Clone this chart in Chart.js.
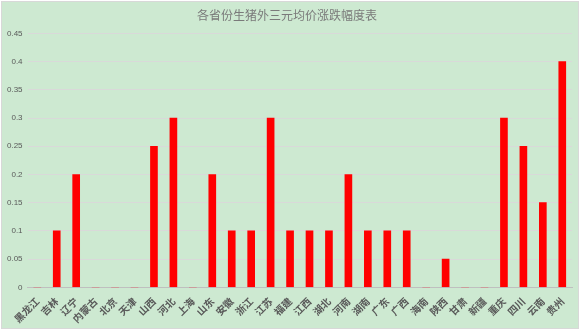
<!DOCTYPE html>
<html>
<head>
<meta charset="utf-8">
<script src="https://cdn.jsdelivr.net/npm/chart.js@4"></script>
<style>
  html, body { margin: 0; padding: 0; background: #fff; }
  #wrap { position: absolute; left: 1px; top: 1px; width: 578px; height: 328px;
          background: #cde9d1; border: 1px solid #d8d8d8; box-sizing: border-box; }
</style>
</head>
<body>
<div id="wrap"><canvas id="c"></canvas></div>
<script>
const provinces = ['黑龙江', '吉林', '辽宁', '内蒙古', '北京', '天津', '山西', '河北', '上海', '山东',
  '安徽', '浙江', '江苏', '福建', '江西', '湖北', '河南', '湖南', '广东', '广西',
  '海南', '陕西', '甘肃', '新疆', '重庆', '四川', '云南', '贵州'];
const changes = [0, 0.1, 0.2, 0, 0, 0, 0.25, 0.3, 0, 0.2,
  0.1, 0.1, 0.3, 0.1, 0.1, 0.1, 0.2, 0.1, 0.1, 0.1,
  0, 0.05, 0, 0, 0.3, 0.25, 0.15, 0.4];
const yTicks = [0, 0.05, 0.1, 0.15, 0.2, 0.25, 0.3, 0.35, 0.4, 0.45];

const canvas = document.getElementById('c');
canvas.width = 576;
canvas.height = 326;
canvas.style.width = '576px';
canvas.style.height = '326px';

new Chart(canvas, {
  type: 'bar',
  data: {
    labels: provinces,
    datasets: [{
      data: changes,
      backgroundColor: '#ff0000',
      barThickness: 7,
    }],
  },
  options: {
    responsive: false,
    animation: false,
    layout: { padding: { left: 0, right: 6, top: 0, bottom: 3 } },
    plugins: {
      legend: { display: false },
      tooltip: { enabled: false },
      title: {
        display: true,
        text: '各省份生猪外三元均价涨跌幅度表',
        color: '#7a7a7a',
        font: { family: 'Noto Sans CJK SC', size: 12, weight: 'normal' },
        padding: { top: 6, bottom: 11 },
      },
    },
    scales: {
      x: {
        grid: { display: false },
        border: { color: '#bfbfbf' },
        ticks: {
          color: '#595959',
          autoSkip: false,
          minRotation: 45,
          maxRotation: 45,
          padding: 0,
          font: { family: 'Noto Sans CJK SC', size: 10, weight: 'bold' },
        },
      },
      y: {
        min: 0,
        max: 0.45,
        afterBuildTicks: (axis) => { axis.ticks = yTicks.map(v => ({ value: v })); },
        grid: { color: '#d9d9d9', drawTicks: false },
        border: { display: false },
        ticks: {
          color: '#595959',
          padding: 5,
          font: { family: 'Liberation Sans', size: 8 },
          callback: (v) => String(v),
        },
      },
    },
  },
});
</script>
</body>
</html>
